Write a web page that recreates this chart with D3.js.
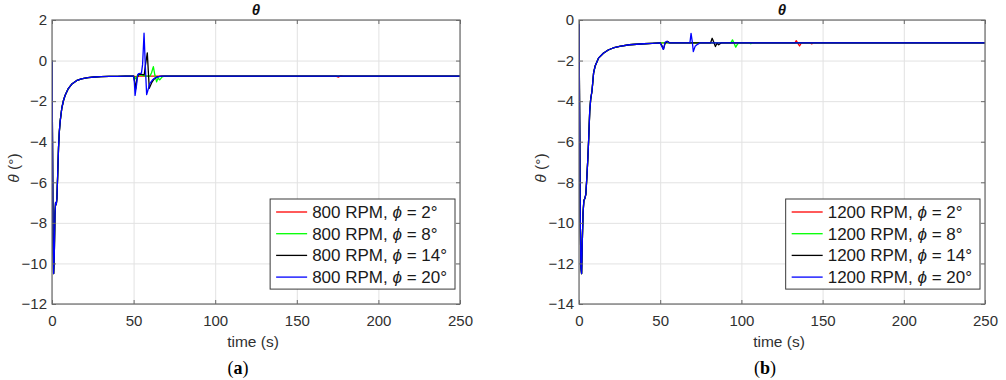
<!DOCTYPE html>
<html>
<head>
<meta charset="utf-8">
<script src="https://cdn.jsdelivr.net/npm/d3@7"></script>
<style>
  body { margin: 0; background: #fff; }
  svg { display: block; font-family: "Liberation Sans", Arial, sans-serif; }
</style>
</head>
<body>
<div id="chart"></div>
<script>
// tick values
const xTicks = [0, 50, 100, 150, 200, 250];
const yTicks800 = [2, 0, -2, -4, -6, -8, -10, -12];
const yTicks1200 = [0, -2, -4, -6, -8, -10, -12, -14];

const phiLabels = ["2°", "8°", "14°", "20°"];
const seriesColors = ["#ff0000", "#00ff00", "#000000", "#0000ff"];

// 800 RPM - start-up transient (same for all cases)
const startTime800 = [0, 0.3, 0.6, 1.0, 1.4, 1.8, 2.2, 2.6, 3.0, 3.5, 4.0, 4.5, 5, 6, 7, 8, 10, 12, 15, 18, 22, 26, 30, 35, 40, 45];
const startTheta800 = [0, -4, -8.5, -10.5, -9.6, -7.6, -7.0, -7.1, -6.8, -5.6, -4.3, -3.5, -3.0, -2.35, -1.98, -1.72, -1.38, -1.17, -0.99, -0.9, -0.84, -0.81, -0.79, -0.78, -0.775, -0.77];

// 800 RPM - rest of each run, [time, theta]
const tail800phi2 = [[50, -0.77], [52, -0.8], [54, -0.75], [56, -0.77], [174, -0.77], [175.5, -0.82], [177, -0.74], [178.5, -0.77], [250, -0.77]];
const tail800phi8 = [[50, -0.77], [51, -0.9], [52.5, -0.72], [55, -0.72], [57, -0.77], [60, -0.77], [61, -0.6], [62.1, -0.3], [63, -0.7], [64.1, -1.05], [65, -0.86], [66, -0.95], [67.5, -0.8], [69, -0.77], [250, -0.77]];
const tail800phi14 = [[50, -0.77], [50.6, -1.0], [51.3, -1.4], [52, -0.9], [53, -0.68], [55, -0.68], [56.5, -0.7], [57.3, -0.2], [58.4, 0.38], [59, -0.5], [59.6, -1.37], [61, -1.1], [62.5, -0.92], [64, -0.82], [66, -0.78], [68, -0.77], [250, -0.77]];
const tail800phi20 = [[50, -0.77], [50.5, -1.1], [50.9, -1.72], [51.8, -1.2], [52.5, -0.7], [53.2, -0.64], [54.8, -0.62], [55.5, -0.2], [56.4, 1.35], [57.2, -0.3], [58, -1.68], [59, -1.4], [60, -1.12], [61.5, -0.96], [63, -0.86], [65, -0.8], [67, -0.77], [250, -0.77]];

// 1200 RPM - start-up transient
const startTime1200 = [0, 0.4, 0.8, 1.2, 1.6, 2.0, 2.5, 3.0, 3.6, 4.2, 4.8, 5.4, 6.0, 6.6, 7.2, 8, 9, 10, 12, 15, 18, 21, 25, 31, 40, 45];
const startTheta1200 = [0, -5, -10, -12.2, -12.5, -11.0, -9.5, -8.9, -8.8, -8.6, -7.8, -6.9, -5.8, -4.5, -3.9, -3.5, -2.6, -2.25, -1.88, -1.64, -1.48, -1.38, -1.3, -1.22, -1.17, -1.15];

// 1200 RPM - rest of each run, [time, theta]
const tail1200phi2 = [[50, -1.13], [133, -1.13], [133.8, -1.02], [134.8, -1.15], [135.8, -1.28], [137, -1.12], [138, -1.13], [142.5, -1.13], [143.3, -1.18], [144, -1.12], [145, -1.13], [250, -1.13]];
const tail1200phi8 = [[50, -1.13], [93.5, -1.13], [94.5, -0.98], [95.5, -1.15], [96.5, -1.34], [97.5, -1.2], [98.5, -1.13], [105, -1.13], [105.8, -1.17], [106.5, -1.13], [250, -1.13]];
const tail1200phi14 = [[50, -1.13], [51, -1.25], [52, -1.45], [53, -1.15], [54.5, -1.05], [56, -1.13], [81, -1.13], [82, -0.9], [83, -1.1], [84, -1.31], [85, -1.15], [86, -1.22], [87.5, -1.13], [250, -1.13]];
const tail1200phi20 = [[50, -1.13], [51, -1.3], [52, -1.45], [53, -1.1], [54, -1.05], [55.5, -1.13], [68.3, -1.13], [69, -0.66], [69.8, -1.1], [70.4, -1.56], [71.5, -1.3], [73, -1.2], [74.5, -1.13], [250, -1.13]];

function buildSeries(startT, startV, tail) {
    return startT.map((t, i) => [t, startV[i]]).concat(tail);
}

const panels = [
    {
        id: "a", rpm: 800, left: 52, right: 460, yDomain: [-12, 2], yTicks: yTicks800,
        series: [tail800phi2, tail800phi8, tail800phi14, tail800phi20].map(tl => buildSeries(startTime800, startTheta800, tl)),
        captionX: 238
    },
    {
        id: "b", rpm: 1200, left: 579, right: 985, yDomain: [-14, 0], yTicks: yTicks1200,
        series: [tail1200phi2, tail1200phi8, tail1200phi14, tail1200phi20].map(tl => buildSeries(startTime1200, startTheta1200, tl)),
        captionX: 765
    }
];

const plotTop = 20, plotBottom = 304;
const axisColor = "#6a6a6a", textColor = "#303030";

const svg = d3.select("#chart").append("svg")
    .attr("width", 1006)
    .attr("height", 380);

panels.forEach(p => {
    const w = p.right - p.left, h = plotBottom - plotTop;
    const x = d3.scaleLinear().domain([0, 250]).range([0, w]);
    const y = d3.scaleLinear().domain(p.yDomain).range([h, 0]);

    const g = svg.append("g").attr("transform", `translate(${p.left},${plotTop})`);

    // grid
    g.append("g")
        .attr("transform", `translate(0,${h})`)
        .call(d3.axisBottom(x).tickValues(xTicks).tickSize(-h).tickFormat(""))
        .call(s => s.select(".domain").remove())
        .selectAll("line").attr("stroke", "#e2e2e2");
    g.append("g")
        .call(d3.axisLeft(y).tickValues(p.yTicks).tickSize(-w).tickFormat(""))
        .call(s => s.select(".domain").remove())
        .selectAll("line").attr("stroke", "#e2e2e2");

    // lines
    const clipId = "clip-" + p.id;
    g.append("clipPath").attr("id", clipId)
        .append("rect").attr("width", w).attr("height", h);

    const line = d3.line()
        .x(d => x(d[0]))
        .y(d => y(d[1]));

    g.append("g").attr("clip-path", `url(#${clipId})`)
        .selectAll("path")
        .data(p.series)
        .enter().append("path")
        .attr("fill", "none")
        .attr("stroke", (d, i) => seriesColors[i])
        .attr("stroke-width", 1.3)
        .attr("stroke-linejoin", "round")
        .attr("d", line);

    // axes with inward ticks
    const styleAxis = s => {
        s.select(".domain").remove();
        s.selectAll("line").attr("stroke", axisColor);
        s.selectAll("text").attr("fill", textColor).style("font-size", "15px")
            .style("font-family", "'Liberation Sans', Arial, sans-serif");
    };
    g.append("g").attr("transform", `translate(0,${h})`)
        .call(d3.axisBottom(x).tickValues(xTicks).tickSizeInner(-4).tickSizeOuter(0).tickPadding(11))
        .call(styleAxis);
    g.append("g")
        .call(d3.axisTop(x).tickValues(xTicks).tickSizeInner(-4).tickSizeOuter(0).tickFormat(""))
        .call(styleAxis);
    g.append("g")
        .call(d3.axisLeft(y).tickValues(p.yTicks).tickSizeInner(-4).tickSizeOuter(0).tickPadding(5))
        .call(styleAxis);
    g.append("g").attr("transform", `translate(${w},0)`)
        .call(d3.axisRight(y).tickValues(p.yTicks).tickSizeInner(-4).tickSizeOuter(0).tickFormat(""))
        .call(styleAxis);

    // box
    g.append("rect")
        .attr("width", w).attr("height", h)
        .attr("fill", "none")
        .attr("stroke", axisColor)
        .attr("stroke-width", 1.2);

    // title
    g.append("text")
        .attr("x", w / 2).attr("y", -5)
        .attr("text-anchor", "middle")
        .attr("fill", "#111")
        .style("font-size", "15px")
        .style("font-weight", "bold")
        .style("font-style", "italic")
        .text("θ");

    // x label
    g.append("text")
        .attr("x", w / 2 - 3).attr("y", h + 43)
        .attr("text-anchor", "middle")
        .attr("fill", textColor)
        .style("font-size", "15.5px")
        .text("time (s)");

    // y label
    const yl = g.append("text")
        .attr("transform", `translate(-33,${h / 2 + 6}) rotate(-90)`)
        .attr("text-anchor", "middle")
        .attr("fill", textColor)
        .style("font-size", "15.5px");
    yl.append("tspan").style("font-style", "italic").text("θ");
    yl.append("tspan").text(" (°)");

    // legend
    const rowH = 21.7, firstRow = 192;
    const leg = g.append("g");
    const texts = [];
    phiLabels.forEach((lab, i) => {
        const row = leg.append("g").attr("transform", `translate(0,${firstRow + i * rowH})`);
        row.append("line")
            .attr("x1", 6).attr("x2", 37)
            .attr("stroke", seriesColors[i])
            .attr("stroke-width", 1.3);
        const t = row.append("text")
            .attr("x", 42).attr("dy", "0.35em")
            .attr("fill", "#1a1a1a")
            .style("font-size", "17px");
        t.append("tspan").text(`${p.rpm} RPM, `);
        t.append("tspan").style("font-style", "italic").text("ϕ");
        t.append("tspan").text(` = ${lab}`);
        texts.push(t);
    });
    const textW = d3.max(texts, t => t.node().getComputedTextLength());
    const legW = 42 + textW + 8;
    const legRight = w - 5;
    leg.attr("transform", `translate(${legRight - legW},0)`);
    leg.insert("rect", ":first-child")
        .attr("x", 0).attr("y", firstRow - 13)
        .attr("width", legW).attr("height", 3 * rowH + 25)
        .attr("fill", "#fff")
        .attr("stroke", "#3a3a3a")
        .attr("stroke-width", 1);

    // caption
    const cap = svg.append("text")
        .attr("x", p.captionX).attr("y", 374)
        .attr("text-anchor", "middle")
        .attr("fill", "#000")
        .style("font-family", "'Liberation Serif', 'Times New Roman', serif")
        .style("font-size", "18px");
    cap.append("tspan").text("(");
    cap.append("tspan").style("font-weight", "bold").text(p.id);
    cap.append("tspan").text(")");
});
</script>
</body>
</html>
